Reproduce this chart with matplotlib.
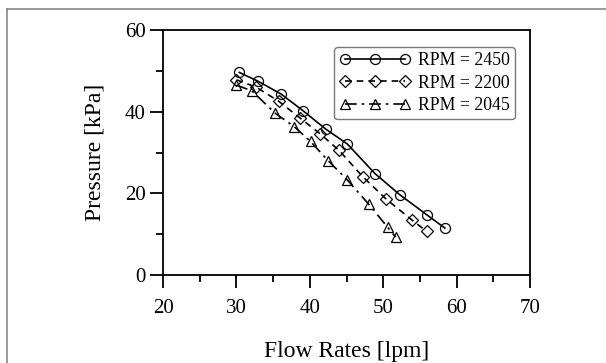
import matplotlib
matplotlib.use('Agg')
import matplotlib.pyplot as plt
from matplotlib.lines import Line2D

plt.rcParams['font.family'] = ['Liberation Serif', 'DejaVu Serif']

# RPM = 2450
q_2450 = [30.4, 33.0, 36.1, 39.1, 42.2, 45.1, 48.9, 52.3, 55.9, 58.4]
p_2450 = [49.6, 47.4, 44.3, 40.2, 35.7, 32.1, 24.8, 19.6, 14.8, 11.5]
# RPM = 2200
q_2200 = [30.0, 32.7, 35.8, 38.7, 41.4, 44.0, 47.2, 50.4, 53.9, 55.9]
p_2200 = [47.8, 46.0, 42.5, 38.4, 34.6, 30.5, 24.1, 18.6, 13.5, 10.7]
# RPM = 2045
q_2045 = [30.0, 32.1, 35.3, 37.9, 40.1, 42.5, 45.1, 48.0, 50.6, 51.7]
p_2045 = [46.5, 45.1, 39.6, 36.3, 32.7, 28.0, 23.3, 17.4, 11.7, 9.3]

etiquetas = ['RPM = 2450', 'RPM = 2200', 'RPM = 2045']

fig = plt.figure(figsize=(6.06, 3.63), dpi=100)
ax = fig.add_axes([163/606, 1 - 275/363, 367/606, 245/363])

# marco gris de la figura (solo izq y arriba)
fig.add_artist(Line2D([7/606, 7/606], [0, 1 - 9/363], color='#888888', lw=1.2))
fig.add_artist(Line2D([7/606, 1], [1 - 9/363, 1 - 9/363], color='#888888', lw=1.2))

ms = 7.2
ax.plot(q_2450, p_2450, color='black', lw=1.2, ls='-', marker='o', ms=ms,
        mfc='none', mec='black', mew=0.9, label=etiquetas[0])
ax.plot(q_2200, p_2200, color='black', lw=1.2, ls=(0, (4, 3)), marker='D', ms=6,
        mfc='none', mec='black', mew=0.9, label=etiquetas[1])
ax.plot(q_2045, p_2045, color='black', lw=1.2, ls=(0, (7, 3, 1.5, 3)), marker='^', ms=ms,
        mfc='none', mec='black', mew=0.9, label=etiquetas[2])

ax.set_xlim(20, 70)
ax.set_ylim(0, 60)
ax.set_xticks([20, 30, 40, 50, 60, 70])
ax.set_xticks([25, 35, 45, 55, 65], minor=True)
ax.set_yticks([0, 20, 40, 60])
ax.set_yticks([10, 30, 50], minor=True)
ax.tick_params(which='major', direction='out', length=9.5, width=1.3, labelsize=15)
ax.tick_params(axis='x', which='major', pad=8)
ax.tick_params(axis='y', which='major', pad=3)
ax.tick_params(which='minor', direction='out', length=5, width=1.3)
for s in ax.spines.values():
    s.set_linewidth(1.3)

ax.set_xlabel('Flow Rates [lpm]', fontsize=17, labelpad=16)
ax.set_ylabel('Pressure [kPa]', fontsize=17, labelpad=14)

leg = ax.legend(loc='upper right', bbox_to_anchor=(1 - 15/367, 1 - 17/245), fontsize=12.8,
                numpoints=3, handlelength=4, handletextpad=0.4, borderpad=0.3,
                labelspacing=0.3, borderaxespad=0, fancybox=True, framealpha=1,
                edgecolor='#777777')
leg.get_frame().set_linewidth(1.0)

fig.savefig('out.png', dpi=100)
